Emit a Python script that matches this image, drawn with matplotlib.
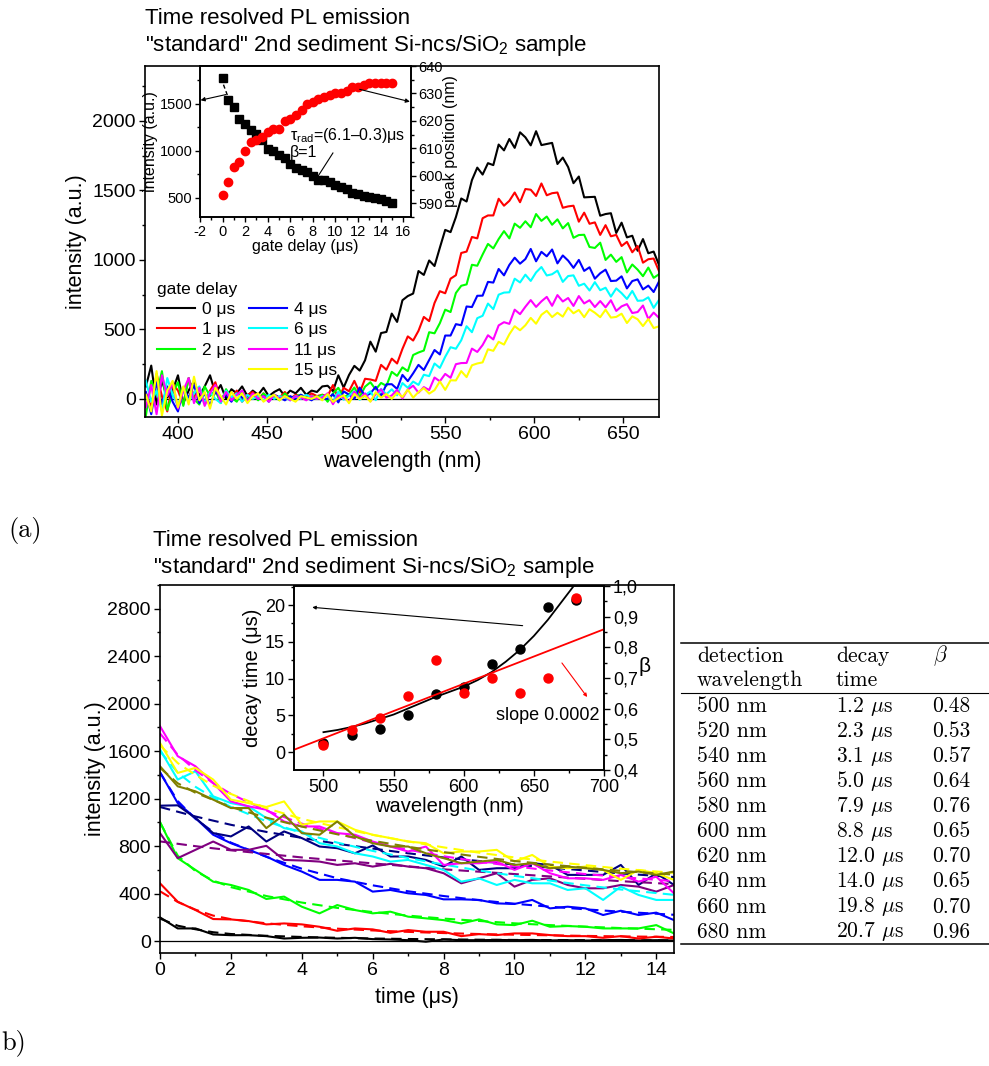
import numpy as np
import matplotlib
matplotlib.use("Agg")
import matplotlib.pyplot as plt
from matplotlib.lines import Line2D
from matplotlib.ticker import MultipleLocator, FuncFormatter

plt.rcParams['font.family'] = ['Liberation Sans', 'DejaVu Sans']
plt.rcParams['mathtext.fontset'] = 'custom'
plt.rcParams['mathtext.rm'] = 'Liberation Sans'
plt.rcParams['mathtext.it'] = 'Liberation Sans:italic'
plt.rcParams['mathtext.bf'] = 'Liberation Sans:bold'
plt.rcParams['axes.unicode_minus'] = False

# ---------------- data: panel (a) spectra (382..670 nm, 3 nm step) ----------------
wavelength = np.arange(382, 671, 3)
delay_labels = ['0 μs', '1 μs', '2 μs', '4 μs', '6 μs', '11 μs', '15 μs']
spec_colors = ['#000000', '#ff0000', '#00ff00', '#0000ff', '#00ffff', '#ff00ff', '#ffff00']

spec_0 = ([90, 240, -40, 130, 10, 60, 170, -30, 60, 130, 20, 90, 170, 40, 100, 0, 70, 40, 90, 20,
           60, 30, 80, 20, 50, 70, 20, 60, 40, 80, 30, 60, 50, 90] +
          [95, 56, 170, 82, 172, 238, 204, 278, 412, 340, 474, 482, 614, 554, 710, 740, 758, 920, 892,
           996, 956, 1088, 1216, 1200, 1308, 1442, 1420, 1574, 1664, 1614, 1696, 1682, 1830, 1788, 1870,
           1806, 1918, 1882, 1824, 1926, 1826, 1834, 1842, 1690, 1736, 1668, 1552, 1600, 1450, 1452,
           1454, 1318, 1330, 1336, 1194, 1268, 1162, 1174, 1066, 1150, 1048, 1060, 964])
spec_1 = ([40, -60, 180, 20, -90, 110, 60, -40, 150, 10, 80, -30, 60, 120, -10, 50, 0, 60, -20, 30,
           50, 0, 40, -10, 30, 10, 50, 0, 30, 20, 10, 40, 20, 30] +
          [20, 100, 0, 80, 55, 130, 45, 145, 140, 130, 245, 210, 290, 255, 360, 450, 420, 490, 590,
           560, 690, 775, 760, 865, 890, 1050, 1060, 1165, 1155, 1300, 1320, 1320, 1440, 1390, 1425,
           1485, 1415, 1510, 1505, 1460, 1550, 1465, 1480, 1485, 1375, 1385, 1390, 1275, 1340, 1260,
           1270, 1180, 1250, 1170, 1180, 1100, 1130, 1055, 1100, 980, 1005, 1010, 920])
spec_2 = ([-120, 130, 30, 200, -80, 40, 120, -50, 150, 0, -40, 90, 20, 60, -30, 70, 10, -20, 50, 0,
           30, -10, 40, 10, 20, -10, 40, 0, 20, 30, 0, 20, 10, 30] +
          [-20, 39, 80, 13, 31, 82, 15, 88, 120, 68, 115, 94, 195, 166, 227, 200, 316, 334, 348,
           480, 472, 545, 642, 625, 762, 814, 824, 965, 958, 1039, 1115, 1083, 1150, 1207, 1155,
           1261, 1231, 1278, 1235, 1330, 1281, 1312, 1253, 1292, 1227, 1265, 1159, 1179, 1181, 1093,
           1086, 1124, 1000, 1038, 986, 1020, 910, 967, 930, 883, 945, 871, 897])
spec_4 = ([50, -110, 120, -40, 90, -20, -90, 70, 10, 100, -30, 40, -50, 60, 0, 30, -20, 40, 10, -10,
           30, 0, 20, -20, 30, 10, -10, 20, 0, 30, 10, -10, 20, 0] +
          [1, 34, -25, 54, 31, 0, 82, 20, 40, 87, 20, 105, 106, 72, 173, 128, 184, 245, 208,
           280, 352, 320, 456, 456, 538, 530, 665, 661, 742, 743, 842, 837, 935, 889, 964,
           1016, 973, 1006, 1079, 990, 1058, 1026, 1075, 975, 1032, 995, 943, 1000, 921, 947,
           865, 904, 930, 848, 851, 882, 795, 848, 860, 788, 815, 769, 845])
spec_6 = ([130, -20, 60, -90, 150, 30, -50, 80, -20, 40, 90, -30, 50, 0, -30, 60, 10, 40, -20, 30,
           0, 20, -10, 30, 0, 20, 10, -10, 20, 0, 30, 10, 0, 20] +
          [20, -22, 52, -6, 24, 55, -6, 26, 54, -9, 72, 34, 69, 26, 114, 80, 125, 101, 174,
           164, 255, 223, 303, 372, 361, 422, 523, 480, 581, 598, 686, 646, 750, 765, 767,
           865, 838, 894, 849, 910, 949, 888, 897, 923, 842, 884, 889, 814, 829, 780,
           840, 782, 800, 736, 795, 761, 719, 777, 706, 708, 731, 655, 712])
spec_11 = ([-60, 100, -110, 170, 20, 120, -70, 60, 150, -30, 80, -50, 40, 100, -20, 50, -10, 30, 60, -20,
            40, 0, 20, -20, 30, 0, 20, -10, 20, 10, -10, 20, 0, 10] +
           [41, -38, 27, 8, -18, 52, 2, 40, -17, 34, 69, 9, 25, 66, 4, 67, 95, 45, 85,
            64, 154, 127, 180, 152, 250, 258, 259, 362, 338, 388, 458, 428, 529, 552, 540,
            642, 610, 663, 711, 662, 702, 734, 670, 747, 701, 726, 669, 740, 687, 710,
            661, 704, 659, 710, 633, 666, 682, 618, 625, 672, 575, 621, 583])
spec_15 = ([30, -90, 200, -120, 60, 130, -60, 90, -40, 160, -10, 50, -70, 80, 20, -40, 50, 0, 40, -30,
            20, 40, -20, 10, 30, -10, 20, 0, -20, 20, 10, 0, 20, -10] +
           [35, -21, 5, 27, -31, 36, -1, 24, -20, 49, 9, 36, 0, 45, 14, 67, 9, 50, 78,
            38, 63, 126, 65, 134, 133, 200, 157, 242, 255, 263, 357, 346, 411, 391, 465,
            523, 494, 530, 583, 541, 605, 634, 589, 620, 592, 657, 616, 640, 588, 645,
            620, 588, 642, 585, 590, 613, 546, 594, 573, 524, 575, 510, 522])
spectra = [spec_0, spec_1, spec_2, spec_4, spec_6, spec_11, spec_15]

# inset (a): intensity and peak position vs gate delay
gate_delay = np.arange(0, 15.01, 0.5)
inset_intensity = [1774, 1542, 1465, 1332, 1283, 1220, 1177, 1114, 1016, 991, 956, 921, 862, 816, 798, 770,
                   728, 686, 693, 665, 640, 616, 588, 553, 535, 518, 510, 500, 482, 465, 447]
peak_position = [593.1, 597.9, 603.2, 605.2, 609.2, 612.2, 613.1, 614.1, 616.1, 617.0, 617.0, 620.0, 620.6,
                 622.2, 624.0, 626.2, 627.0, 627.9, 628.8, 629.5, 630.1, 630.1, 631.0, 632.5, 632.5, 633.1,
                 633.9, 633.9, 633.9, 633.9, 633.9]

# ---------------- data: panel (b) decays ----------------
time_us = np.arange(0, 14.51, 0.5)
fit_time = [0, 0.5, 1, 1.5, 2, 3, 4, 5, 6, 7, 8, 9, 10, 11, 12, 13, 14.5]
decay_colors = ['#000000', '#ff0000', '#00ff00', '#0000ff', '#000080', '#800080',
                '#00ffff', '#ff00ff', '#ffff00', '#808000']
black_d = [200, 107, 107, 56, 50, 50, 42, 22, 28, 30, 22, 28, 17, 14, 8, -5, 14, 8, 8, 10, 8, 10, 6, 8, 5, 8, 10, 6, 8, 5]
red_d = [487, 332, 262, 186, 183, 169, 141, 149, 141, 121, 87, 107, 99, 70, 93, 79, 79, 42, 59, 51, 65, 65, 51, 42, 42, 28, 42, 22, 37, 22]
green_d = [1003, 699, 600, 501, 473, 431, 355, 375, 290, 234, 304, 262, 234, 248, 206, 192, 177, 149, 183, 141, 135, 172, 121, 127, 121, 107, 107, 107, 135, 65]
blue_d = [1423, 1163, 1037, 896, 825, 769, 713, 642, 586, 516, 516, 501, 417, 431, 403, 389, 352, 352, 347, 318, 313, 347, 276, 290, 276, 220, 256, 220, 240, 177]
navy_d = [1141, 1144, 1037, 910, 882, 966, 839, 924, 868, 797, 783, 740, 806, 713, 713, 684, 628, 713, 600, 614, 614, 656, 642, 558, 558, 558, 642, 473, 572, 473]
purple_d = [910, 699, 769, 839, 769, 769, 803, 684, 679, 670, 642, 656, 628, 651, 628, 614, 572, 487, 529, 572, 459, 516, 529, 473, 445, 445, 473, 459, 417, 473]
cyan_d = [1614, 1361, 1431, 1220, 1163, 1135, 1037, 952, 924, 825, 797, 740, 713, 670, 684, 642, 600, 501, 529, 473, 516, 487, 487, 431, 445, 347, 459, 389, 347, 347]
magenta_d = [1811, 1558, 1473, 1332, 1177, 1135, 1107, 1008, 966, 966, 910, 896, 839, 797, 755, 797, 642, 656, 656, 670, 600, 656, 572, 529, 529, 516, 558, 501, 543, 403]
yellow_d = [1670, 1417, 1459, 1361, 1192, 1163, 1130, 1177, 980, 1008, 1008, 938, 896, 868, 839, 825, 740, 755, 755, 769, 670, 726, 628, 614, 628, 600, 516, 600, 572, 516]
olive_d = [1473, 1304, 1262, 1192, 1121, 1121, 952, 1065, 910, 896, 1008, 882, 825, 797, 797, 740, 699, 656, 670, 684, 642, 656, 614, 628, 614, 600, 572, 586, 558, 586]
decays = [black_d, red_d, green_d, blue_d, navy_d, purple_d, cyan_d, magenta_d, yellow_d, olive_d]

black_f = [190, 130, 100, 75, 60, 45, 35, 28, 22, 18, 15, 12, 10, 9, 8, 7, 6]
red_f = [420, 330, 265, 215, 185, 150, 125, 105, 90, 78, 68, 60, 54, 49, 44, 40, 35]
green_f = [1000, 720, 590, 510, 455, 380, 325, 280, 245, 215, 190, 170, 150, 135, 122, 110, 95]
blue_f = [1420, 1180, 1030, 920, 830, 710, 610, 530, 470, 420, 380, 345, 315, 290, 268, 248, 222]
navy_f = [1130, 1090, 1050, 1015, 980, 920, 870, 820, 780, 740, 705, 675, 645, 620, 595, 570, 540]
purple_f = [840, 820, 800, 782, 765, 735, 705, 680, 655, 630, 605, 585, 565, 545, 525, 505, 480]
cyan_f = [1600, 1420, 1300, 1210, 1130, 1010, 910, 830, 760, 700, 645, 595, 550, 510, 470, 435, 390]
magenta_f = [1750, 1570, 1440, 1330, 1240, 1100, 990, 905, 830, 770, 715, 670, 630, 595, 565, 540, 505]
yellow_f = [1650, 1500, 1400, 1310, 1240, 1120, 1030, 960, 895, 840, 790, 745, 705, 670, 640, 610, 575]
olive_f = [1460, 1330, 1250, 1190, 1130, 1040, 965, 900, 845, 795, 750, 710, 675, 645, 618, 592, 560]
fits = [black_f, red_f, green_f, blue_f, navy_f, purple_f, cyan_f, magenta_f, yellow_f, olive_f]

# inset (b): decay time and beta vs wavelength
det_wavelength = [500, 520, 540, 560, 580, 600, 620, 640, 660, 680]
decay_time = [1.2, 2.3, 3.1, 5.0, 7.9, 8.8, 12.0, 14.0, 19.8, 20.7]
beta = [0.48, 0.53, 0.57, 0.64, 0.76, 0.65, 0.70, 0.65, 0.70, 0.96]
tau_fit_wl = [500, 510, 520, 530, 540, 550, 560, 570, 580, 590, 600, 610, 620, 630, 640, 650, 660, 670, 680]
tau_fit = [2.7, 3.0, 3.4, 3.9, 4.5, 5.1, 5.9, 6.7, 7.5, 8.2, 8.9, 9.8, 10.9, 12.3, 13.9, 15.8, 18.0, 20.5, 23.0]
beta_fit_wl = [479, 700]
beta_fit = [0.466, 0.859]

table_wl = ['500 nm', '520 nm', '540 nm', '560 nm', '580 nm', '600 nm', '620 nm', '640 nm', '660 nm', '680 nm']
table_tau = ['1.2', '2.3', '3.1', '5.0', '7.9', '8.8', '12.0', '14.0', '19.8', '20.7']
table_beta = ['0.48', '0.53', '0.57', '0.64', '0.76', '0.65', '0.70', '0.65', '0.70', '0.96']

# ---------------- figure ----------------
W, H = 989, 1066
fig = plt.figure(figsize=(W / 100, H / 100), dpi=100)


def rect(x0, y0, x1, y1):
    return [x0 / W, 1 - y1 / H, (x1 - x0) / W, (y1 - y0) / H]


def fx(x):
    return x / W


def fy(y):
    return 1 - y / H


def style_axis(ax, fs, major=4.5, minor=2.5):
    ax.tick_params(which='both', direction='out', labelsize=fs, width=1.0, pad=2)
    ax.tick_params(which='major', length=major)
    ax.tick_params(which='minor', length=minor)
    for s in ax.spines.values():
        s.set_linewidth(1.2)


# ---- panel (a) main ----
ax1 = fig.add_axes(rect(145, 66, 659, 417))
for y, c, lab in zip(spectra, spec_colors, delay_labels):
    ax1.plot(wavelength, y, color=c, lw=1.5, label=lab)
ax1.axhline(0, color='k', lw=0.9, zorder=0)
ax1.set_xlim(381.5, 670)
ax1.set_ylim(-130, 2395)
ax1.xaxis.set_major_locator(MultipleLocator(50))
ax1.xaxis.set_minor_locator(MultipleLocator(25))
ax1.yaxis.set_major_locator(MultipleLocator(500))
ax1.yaxis.set_minor_locator(MultipleLocator(250))
style_axis(ax1, 14)
ax1.tick_params(top=False, right=False)
ax1.set_xlabel('wavelength (nm)', fontsize=15.5, labelpad=6)
ax1.set_ylabel('intensity (a.u.)', fontsize=15.5, labelpad=4)

handles, labels = ax1.get_legend_handles_labels()
blank = Line2D([], [], color='none')
handles = handles[:3] + [blank] + handles[3:]
labels = labels[:3] + [''] + labels[3:]
leg = ax1.legend(handles, labels, ncol=2, title='gate delay', loc='upper left',
                 bbox_to_anchor=(0.0, 0.42), frameon=False, fontsize=12.5,
                 title_fontsize=12.5, handlelength=2.2, handletextpad=0.4,
                 columnspacing=0.75, labelspacing=0.3, borderaxespad=0.3, alignment='left')

fig.text(fx(145), fy(18), 'Time resolved PL emission', fontsize=16, va='center', ha='left')
fig.text(fx(145), fy(46), '"standard" 2nd sediment Si-ncs/SiO$_2$ sample', fontsize=16, va='center', ha='left')

# ---- panel (a) inset ----
axi = fig.add_axes(rect(200, 66, 411, 217))
axi.plot(gate_delay, inset_intensity, 's', color='k', ms=5.5, zorder=3)
axi.plot([0.08, 0.42], [1700, 1590], color='k', lw=1.0, ls=(0, (3, 2)))
axi.set_xlim(-2, 16.7)
axi.set_ylim(296, 1898)
axi.xaxis.set_major_locator(MultipleLocator(2))
axi.xaxis.set_minor_locator(MultipleLocator(1))
axi.yaxis.set_major_locator(MultipleLocator(500))
axi.yaxis.set_minor_locator(MultipleLocator(250))
style_axis(axi, 10.5, 3.5, 2)
axi.set_xlabel('gate delay (μs)', fontsize=11.5, labelpad=0)
axi.set_ylabel('intensity (a.u.)', fontsize=11.5, labelpad=1)
axi2 = axi.twinx()
axi2.plot(gate_delay, peak_position, 'o', color='#ff0000', ms=6, zorder=3)
axi2.set_ylim(585, 640)
axi2.yaxis.set_major_locator(MultipleLocator(10))
axi2.yaxis.set_minor_locator(MultipleLocator(5))
style_axis(axi2, 10.5, 3.5, 2)
axi2.set_ylabel('peak position (nm)', fontsize=11.5, labelpad=0)
axi.annotate('', xy=(-1.95, 1535), xytext=(0.3, 1595), annotation_clip=False,
             arrowprops=dict(arrowstyle='-|>', lw=0.8, color='k', mutation_scale=6, shrinkA=0, shrinkB=0))
axi2.annotate('', xy=(16.6, 627.0), xytext=(12.15, 631.5), annotation_clip=False,
              arrowprops=dict(arrowstyle='-|>', lw=0.8, color='k', mutation_scale=6, shrinkA=0, shrinkB=0))
axi.text(6.0, 1165, 'τ$_{\\rm rad}$=(6.1–0.3)μs', fontsize=11.5, va='center', ha='left')
axi.text(6.0, 985, 'β=1', fontsize=11.5, va='center', ha='left')
axi.plot([9.78, 8.44], [975, 725], color='k', lw=0.8)

# ---- panel (b) main ----
ax2 = fig.add_axes(rect(160, 585, 674, 953))
for y, f, c in zip(decays, fits, decay_colors):
    ax2.plot(time_us, y, color=c, lw=1.5)
    ax2.plot(fit_time, f, color=c, lw=1.5, ls=(0, (5, 3)))
ax2.axhline(0, color='k', lw=0.9, zorder=0)
ax2.set_xlim(0, 14.5)
ax2.set_ylim(-100, 3000)
ax2.xaxis.set_major_locator(MultipleLocator(2))
ax2.xaxis.set_minor_locator(MultipleLocator(1))
ax2.yaxis.set_major_locator(MultipleLocator(400))
ax2.yaxis.set_minor_locator(MultipleLocator(200))
ax2.set_yticks([0, 400, 800, 1200, 1600, 2000, 2400, 2800])
style_axis(ax2, 14)
ax2.set_xlabel('time (μs)', fontsize=15.5, labelpad=6)
ax2.set_ylabel('intensity (a.u.)', fontsize=15.5, labelpad=1)

fig.text(fx(153), fy(541), 'Time resolved PL emission', fontsize=16, va='center', ha='left')
fig.text(fx(153), fy(568), '"standard" 2nd sediment Si-ncs/SiO$_2$ sample', fontsize=16, va='center', ha='left')

# ---- panel (b) inset ----
axb = fig.add_axes(rect(294, 586, 604, 770))
axb.patch.set_alpha(0)
axb.plot(tau_fit_wl, tau_fit, color='k', lw=1.3)
axb.plot(det_wavelength, decay_time, 'o', color='k', ms=6.5, zorder=3)
axb.set_xlim(479, 700)
axb.set_ylim(-2.45, 22.6)
axb.xaxis.set_major_locator(MultipleLocator(50))
axb.xaxis.set_minor_locator(MultipleLocator(25))
axb.yaxis.set_major_locator(MultipleLocator(5))
axb.yaxis.set_minor_locator(MultipleLocator(2.5))
style_axis(axb, 13)
axb.set_xlabel('wavelength (nm)', fontsize=14.5, labelpad=1)
axb.set_ylabel('decay time (μs)', fontsize=14.5, labelpad=2)
axb2 = axb.twinx()
axb2.plot(beta_fit_wl, beta_fit, color='#ff0000', lw=1.3)
axb2.plot(det_wavelength, beta, 'o', color='#ff0000', ms=6.5, zorder=3)
axb2.set_ylim(0.4, 1.0)
axb2.yaxis.set_major_locator(MultipleLocator(0.1))
axb2.yaxis.set_minor_locator(MultipleLocator(0.05))
axb2.yaxis.set_major_formatter(FuncFormatter(lambda v, p: ('%.1f' % v).replace('.', ',')))
style_axis(axb2, 13)
axb2.set_xlim(479, 700)
axb.annotate('', xy=(492, 19.7), xytext=(642, 17.2), annotation_clip=False,
             arrowprops=dict(arrowstyle='-|>', lw=0.8, color='k', mutation_scale=5, shrinkA=0, shrinkB=0))
axb2.annotate('', xy=(688, 0.638), xytext=(670, 0.749), annotation_clip=False,
              arrowprops=dict(arrowstyle='-|>', lw=0.8, color='#ff0000', mutation_scale=5, shrinkA=0, shrinkB=0))
axb.text(697, 5.0, 'slope 0.0002', fontsize=13, ha='right', va='center')
fig.text(fx(639), fy(667), 'β', fontsize=15, ha='left', va='center')

# ---- table ----
for yy, lw in [(643, 1.1), (693, 0.8), (944, 1.1)]:
    fig.add_artist(Line2D([fx(681), fx(989)], [fy(yy), fy(yy)], transform=fig.transFigure, color='k', lw=lw))
tkw = dict(fontsize=15.5, family='cmr10', math_fontfamily='cm', va='center', ha='left')
fig.text(fx(697), fy(656), 'detection', **tkw)
fig.text(fx(697), fy(680), 'wavelength', **tkw)
fig.text(fx(836), fy(656), 'decay', **tkw)
fig.text(fx(836), fy(680), 'time', **tkw)
fig.text(fx(933), fy(656), r'$\beta$', **tkw)
for i in range(len(table_wl)):
    yy = 706 + i * 25.1
    fig.text(fx(697), fy(yy), table_wl[i], **tkw)
    fig.text(fx(836), fy(yy), table_tau[i] + r' $\mu$s', **tkw)
    fig.text(fx(932), fy(yy), table_beta[i], **tkw)

fig.text(fx(8), fy(530), '(a)', fontsize=19, family='cmr10', va='center', ha='left')
fig.text(fx(1), fy(1043), 'b)', fontsize=19, family='cmr10', va='center', ha='left')

fig.savefig('out.png', dpi=100)
